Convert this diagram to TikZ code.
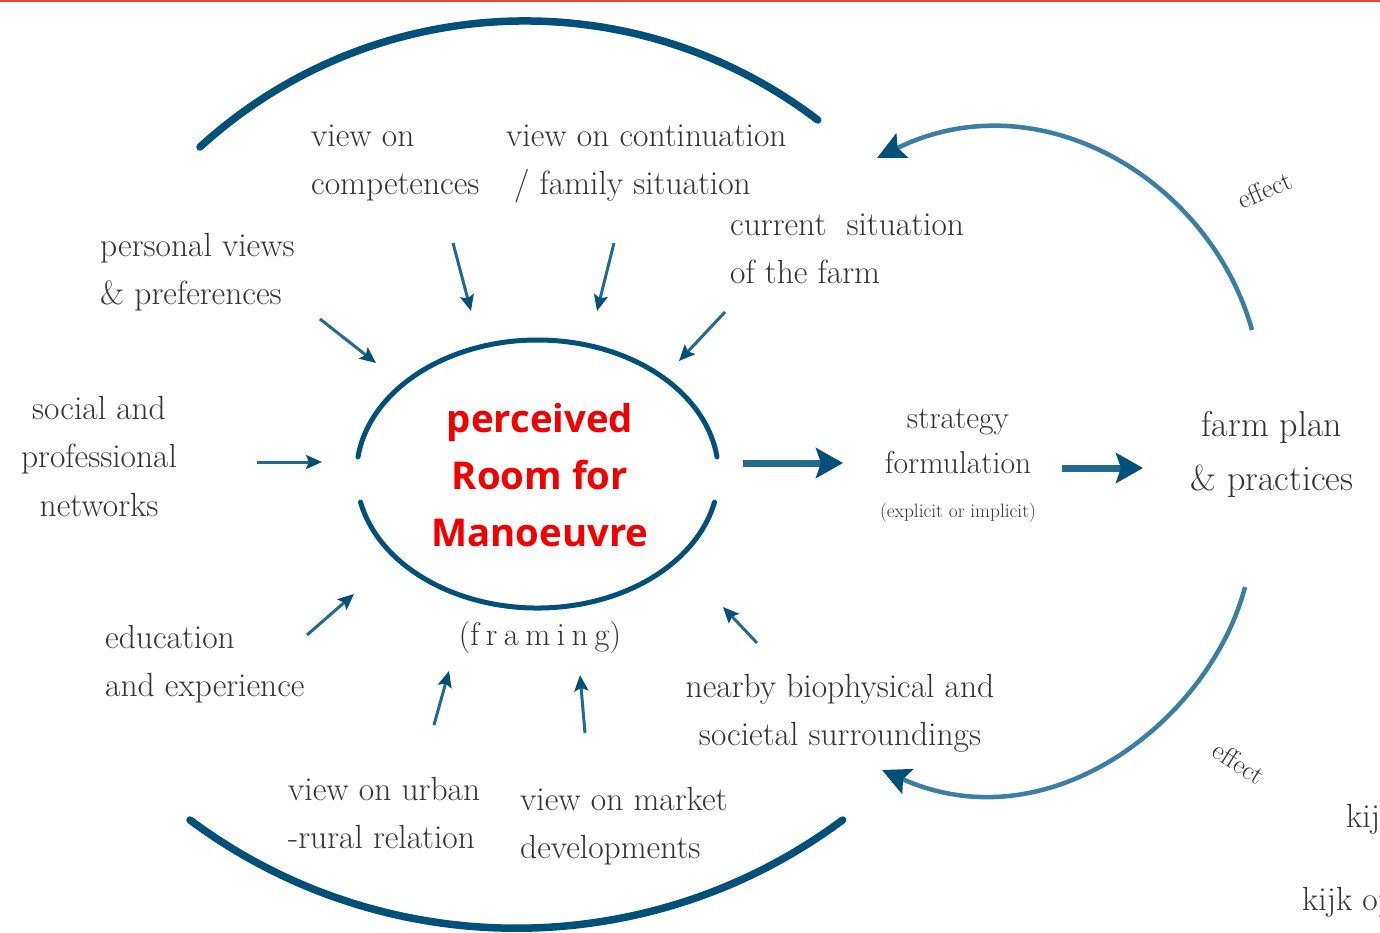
\documentclass[tikz,border=0pt]{standalone}
\usepackage{fontspec}
\newfontfamily\redfont{Open Sans}
\usetikzlibrary{arrows.meta}
\definecolor{dblue}{HTML}{00507A}
\definecolor{mblue}{HTML}{24698F}
\definecolor{lblue}{HTML}{3A7FA3}
\definecolor{txt}{HTML}{333333}
\definecolor{topred}{HTML}{E84545}
\definecolor{rfmred}{HTML}{F20000}
\begin{document}
\begin{tikzpicture}[x=1pt,y=-1pt,
  lbl/.style={inner sep=0pt, text=txt, font=\fontsize{33.5}{48.5}\selectfont, anchor=north west, align=left},
  lblc/.style={lbl, anchor=north, align=center},
  ring/.style={line width=5pt, dblue, line cap=round},
  outer/.style={line width=7.5pt, dblue, line cap=round},
  inarr/.style={line width=3pt, mblue, -{Stealth[length=16pt,width=14pt,inset=3pt,color=dblue,fill=dblue]}},
  bigarr/.style={line width=7pt, mblue, -{Stealth[length=27pt,width=30pt,inset=5pt,color=dblue,fill=dblue]}},
  loop/.style={line width=4.5pt, lblue, -{Stealth[length=28pt,width=27pt,inset=5pt,color=dblue,fill=dblue]}},
  efx/.style={inner sep=0pt, text=txt, font=\fontsize{27}{30}\selectfont}
]
\useasboundingbox (0,0) rectangle (1380,932);
\clip (0,0) rectangle (1380,932);
\fill[white] (0,0) rectangle (1380,932);
\fill[topred] (0,0) rectangle (1380,2);

% outer arcs
\draw[outer] (200,147) arc[start angle=-132.4, end angle=-52.6, radius=482];
\draw[outer] (190,820) arc[start angle=126.7, end angle=53.3, radius=546];

% central ring
\coordinate (c) at (537.5,474);
\draw[ring] ([shift={(-172.7:181 and 134)}]c) arc[start angle=-172.7, end angle=-7.3, x radius=181, y radius=134];
\draw[ring] ([shift={(167.9:181 and 134)}]c) arc[start angle=167.9, end angle=12.1, x radius=181, y radius=134];

\node[inner sep=0pt, text=rfmred, anchor=north, align=center,
      font=\redfont\bfseries\fontsize{38.3}{57}\selectfont] (rfm) at (540,392)
      {\strut perceived\\Room for\\Manoeuvre};
\node[inner sep=0pt, text=txt, anchor=base, font=\fontsize{32.5}{36}\selectfont] (framing) at (540,645)
      {(f\hspace{0.2em}r\hspace{0.2em}a\hspace{0.2em}m\hspace{0.2em}i\hspace{0.2em}n\hspace{0.2em}g)};

% labels
\node[lbl] (comp) at (311,112) {\strut view on\\competences};
\node[lbl] (cont) at (506,112) {\strut view on continuation\\\hspace*{8pt}/ family situation};
\node[lbl] (cur) at (730,201) {\strut current\ \ situation\\of the farm};
\node[lbl] (pers) at (100,222) {\strut personal views\\\& preferences};
\node[lblc] (soc) at (99,385) {\strut social and\\professional\\networks};
\node[lbl] (edu) at (105,614) {\strut education\\and experience};
\node[lbl] (urb) at (288,766) {\strut view on urban\\-rural relation};
\node[lbl] (mkt) at (520,776) {\strut view on market\\developments};
\node[lblc] (near) at (840,663) {\strut nearby biophysical and\\societal surroundings};
\node[lblc, font=\fontsize{31.6}{45}\selectfont] (strat) at (958,396.5) {\strut strategy\\formulation};
\node[inner sep=0pt, text=txt, anchor=base, font=\fontsize{19.3}{21}\selectfont] (expl) at (958,517) {(explicit or implicit)};
\node[lblc, font=\fontsize{36}{54}\selectfont] (farm) at (1272,398) {\strut farm plan\\\& practices};
\node[efx, rotate=23] (eff1) at (1265,190) {effect};
\node[efx, rotate=-32] (eff2) at (1239,763) {effect};
\node[inner sep=0pt, text=txt, anchor=base west, font=\fontsize{33.5}{36}\selectfont] (kijk1) at (1346,827) {kijk};
\node[inner sep=0pt, text=txt, anchor=base west, font=\fontsize{33.5}{36}\selectfont] (kijk2) at (1302,910) {kijk op};

% inward arrows
\coordinate (a1s) at (453,243); \coordinate (a1e) at (471,311);
\coordinate (a2s) at (614,243); \coordinate (a2e) at (597,311);
\coordinate (a3s) at (725,312); \coordinate (a3e) at (679,361);
\coordinate (a4s) at (320,319); \coordinate (a4e) at (376,363);
\coordinate (a5s) at (257,462); \coordinate (a5e) at (322,462);
\coordinate (a6s) at (307,635); \coordinate (a6e) at (354,594);
\coordinate (a7s) at (434,725); \coordinate (a7e) at (449,671);
\coordinate (a8s) at (585,733); \coordinate (a8e) at (580,675);
\coordinate (a9s) at (757,643); \coordinate (a9e) at (723,607);
\foreach \i in {1,...,9} {\draw[inarr] (a\i s) -- (a\i e);}

% main flow
\coordinate (b1s) at (743,463); \coordinate (b1e) at (843,463);
\coordinate (b2s) at (1062,468); \coordinate (b2e) at (1143,468);
\draw[bigarr] (b1s) -- (b1e);
\draw[bigarr] (b2s) -- (b2e);

% feedback loops
\coordinate (l1s) at (1252,330); \coordinate (l1e) at (877,158);
\coordinate (l2s) at (1245,587); \coordinate (l2e) at (882,770);
\draw[loop] (l1s) .. controls (1210,180) and (1040,78) .. (l1e);
\draw[loop] (l2s) .. controls (1210,720) and (1050,845) .. (l2e);
\end{tikzpicture}
\end{document}
